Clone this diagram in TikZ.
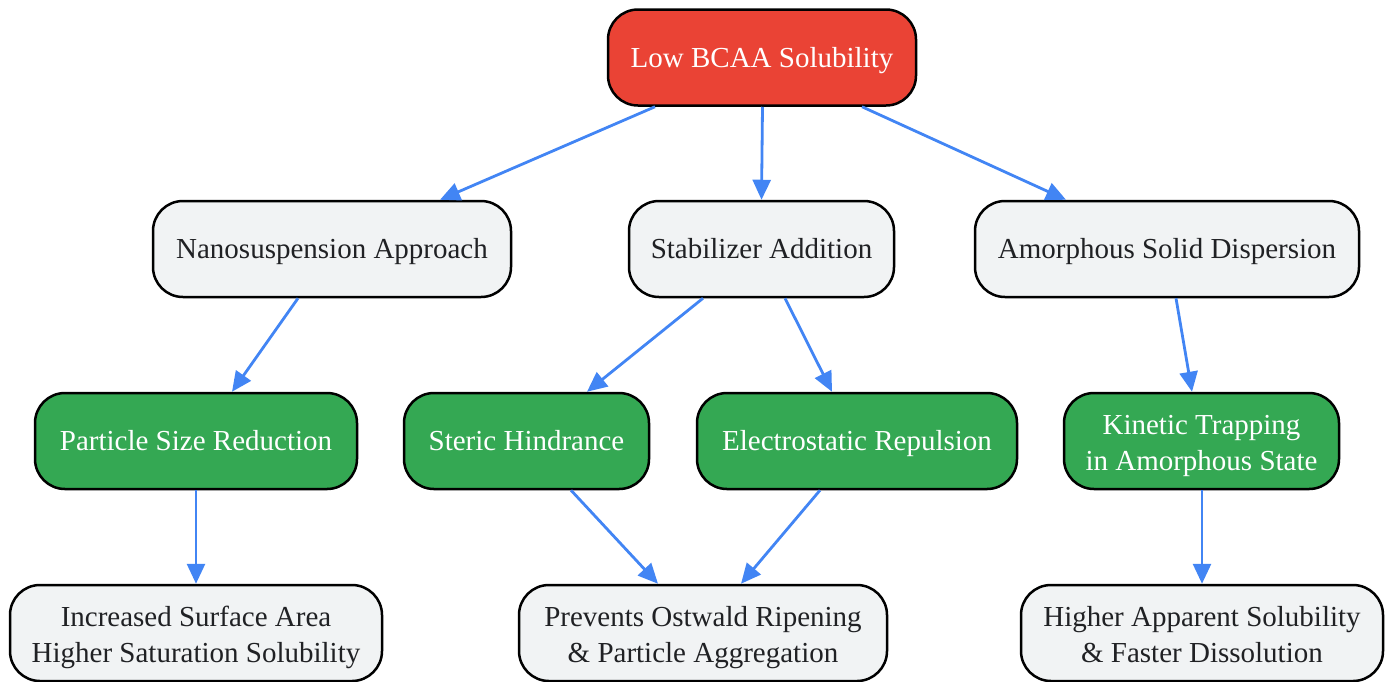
\documentclass[tikz,border=0pt]{standalone}
\usepackage{fontspec}
\setmainfont{Liberation Serif}
\usetikzlibrary{arrows.meta}
\definecolor{cred}{HTML}{EA4335}
\definecolor{cgreen}{HTML}{34A853}
\definecolor{cgray}{HTML}{F1F3F4}
\definecolor{cblue}{HTML}{4285F4}
\definecolor{ctext}{HTML}{202124}
\tikzset{
  box/.style={draw=black, line width=2.5pt, rounded corners=30pt, minimum height=96pt, inner sep=0pt, align=center, font=\fontsize{29}{36}\selectfont,
    text height=25.5pt, text depth=6.4pt},
  twoline/.style={text height=65pt, text depth=6.4pt},
  redbox/.style={box, fill=cred, text=white},
  greenbox/.style={box, fill=cgreen, text=white},
  graybox/.style={box, fill=cgray, text=ctext},
  conn/.style={draw=cblue, line width=2.8pt, -{Triangle[length=20pt,width=18pt]}}
}
\begin{document}
\begin{tikzpicture}[x=1pt,y=-1pt]
\useasboundingbox (0,0) rectangle (1388,681);
\clip (0,0) rectangle (1388,681);
\node[redbox, minimum width=308pt] (top) at (762,57.5) {Low BCAA Solubility};
\node[graybox, minimum width=358pt] (nano) at (332,249) {Nanosuspension Approach};
\node[graybox, minimum width=265pt] (stab) at (761.5,249) {Stabilizer Addition};
\node[graybox, minimum width=384pt] (amor) at (1167,249) {Amorphous Solid Dispersion};
\node[greenbox, minimum width=322pt] (part) at (196,441) {Particle Size Reduction};
\node[greenbox, minimum width=245pt] (ster) at (526.5,441) {Steric Hindrance};
\node[greenbox, minimum width=320pt] (elec) at (857,441) {Electrostatic Repulsion};
\node[greenbox, twoline, minimum width=275pt] (kine) at (1201.5,441) {Kinetic Trapping\\in Amorphous State};
\node[graybox, twoline, minimum width=372pt] (incr) at (196,633) {Increased Surface Area\\Higher Saturation Solubility};
\node[graybox, twoline, minimum width=368pt] (prev) at (703,633) {Prevents Ostwald Ripening\\\& Particle Aggregation};
\node[graybox, twoline, minimum width=362pt] (high) at (1202,633) {Higher Apparent Solubility\\\& Faster Dissolution};
\draw[conn] ([xshift=-107pt]top.south) -- ([xshift=108pt]nano.north);
\draw[conn] ([xshift=0.5pt]top.south) -- (stab.north);
\draw[conn] ([xshift=100pt]top.south) -- ([xshift=-101pt]amor.north);
\draw[conn] ([xshift=-34pt]nano.south) -- ([xshift=36pt]part.north);
\draw[conn] ([xshift=-58.5pt]stab.south) -- ([xshift=60.5pt]ster.north);
\draw[conn] ([xshift=23.5pt]stab.south) -- ([xshift=-25pt]elec.north);
\draw[conn] ([xshift=9pt]amor.south) -- ([xshift=-9.5pt]kine.north);
\draw[conn] (part.south) -- (incr.north);
\draw[conn] ([xshift=44.5pt]ster.south) -- ([xshift=-45pt]prev.north);
\draw[conn] ([xshift=-37pt]elec.south) -- ([xshift=38pt]prev.north);
\draw[conn] ([xshift=0.5pt]kine.south) -- (high.north);
\end{tikzpicture}
\end{document}
